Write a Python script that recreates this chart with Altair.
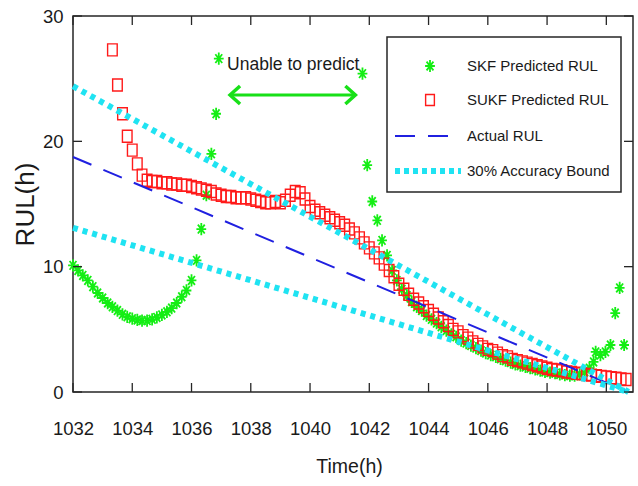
import altair as alt
import pandas as pd

# ---------------- data ----------------
skf1_t = [1032.0, 1032.17, 1032.33, 1032.5, 1032.67, 1032.83,
          1033.0, 1033.17, 1033.33, 1033.5, 1033.67, 1033.83,
          1034.0, 1034.17, 1034.33, 1034.5, 1034.67, 1034.83,
          1035.0, 1035.17, 1035.33, 1035.5, 1035.67, 1035.83,
          1036.0, 1036.17, 1036.33, 1036.5, 1036.67, 1036.83, 1036.92]
skf1_v = [10.1, 9.7, 9.3, 8.9, 8.4, 7.9,
          7.5, 7.1, 6.8, 6.5, 6.2, 6.0,
          5.85, 5.75, 5.7, 5.7, 5.8, 5.95,
          6.15, 6.4, 6.7, 7.1, 7.6, 8.1,
          8.9, 10.5, 13.0, 15.7, 19.0, 22.2, 26.6]

skf2_t = [1041.77, 1041.93,
          1042.1, 1042.27, 1042.43, 1042.6, 1042.77, 1042.93,
          1043.1, 1043.27, 1043.43, 1043.6, 1043.77, 1043.93,
          1044.1, 1044.27, 1044.43, 1044.6, 1044.77, 1044.93,
          1045.1, 1045.27, 1045.43, 1045.6, 1045.77, 1045.93,
          1046.1, 1046.27, 1046.43, 1046.6, 1046.77, 1046.93,
          1047.1, 1047.27, 1047.43, 1047.6, 1047.77, 1047.93,
          1048.1, 1048.27, 1048.43, 1048.6, 1048.77, 1048.93,
          1049.1, 1049.27, 1049.43, 1049.57, 1049.64, 1049.8, 1049.97,
          1050.14, 1050.3, 1050.45, 1050.6]
skf2_v = [25.4, 18.1,
          15.2, 13.7, 12.1, 10.9, 9.7, 8.9,
          8.2, 7.7, 7.2, 6.8, 6.5, 6.1,
          5.8, 5.5, 5.2, 4.9, 4.6, 4.4,
          4.1, 3.9, 3.7, 3.5, 3.3, 3.1,
          2.95, 2.8, 2.65, 2.5, 2.35, 2.2,
          2.1, 2.0, 1.9, 1.8, 1.7, 1.6,
          1.55, 1.5, 1.4, 1.35, 1.3, 1.3,
          1.4, 1.6, 1.9, 2.4, 3.2, 2.95, 3.2,
          3.75, 6.3, 8.3, 3.75]

sukf_t = [1033.33, 1033.5, 1033.67, 1033.83,
          1034.0, 1034.17, 1034.33, 1034.5, 1034.67, 1034.83,
          1035.0, 1035.17, 1035.33, 1035.5, 1035.67, 1035.83,
          1036.0, 1036.17, 1036.33, 1036.5, 1036.67, 1036.83,
          1037.0, 1037.17, 1037.33, 1037.5, 1037.67, 1037.83,
          1038.0, 1038.17, 1038.33, 1038.5, 1038.67, 1038.83,
          1039.0, 1039.17, 1039.33, 1039.5, 1039.67, 1039.83,
          1040.0, 1040.17, 1040.33, 1040.5, 1040.67, 1040.83,
          1041.0, 1041.17, 1041.33, 1041.5, 1041.67, 1041.83,
          1042.0, 1042.17, 1042.33, 1042.5, 1042.67, 1042.83,
          1043.0, 1043.17, 1043.33, 1043.5, 1043.67, 1043.83,
          1044.0, 1044.17, 1044.33, 1044.5, 1044.67, 1044.83,
          1045.0, 1045.17, 1045.33, 1045.5, 1045.67, 1045.83,
          1046.0, 1046.17, 1046.33, 1046.5, 1046.67, 1046.83,
          1047.0, 1047.17, 1047.33, 1047.5, 1047.67, 1047.83,
          1048.0, 1048.17, 1048.33, 1048.5, 1048.67, 1048.83,
          1049.0, 1049.17, 1049.33, 1049.5, 1049.67, 1049.83,
          1050.0, 1050.17, 1050.33, 1050.5, 1050.67]
sukf_v = [27.3, 24.5, 22.2, 20.4,
          19.3, 18.2, 17.3, 16.9, 16.8, 16.8,
          16.7, 16.7, 16.6, 16.6, 16.5, 16.5,
          16.4, 16.3, 16.2, 16.1, 16.0, 15.8,
          15.7, 15.6, 15.6, 15.5, 15.5, 15.5,
          15.4, 15.3, 15.2, 15.1, 15.1, 15.2,
          15.1, 15.3, 15.7, 16.0, 15.9, 15.4,
          14.8, 14.5, 14.3, 14.1, 13.9, 13.7,
          13.5, 13.3, 13.0, 12.7, 12.3, 11.9,
          11.5, 11.1, 10.7, 10.2, 9.7, 9.2,
          8.6, 8.2, 7.8, 7.4, 7.1, 6.8,
          6.5, 6.2, 5.9, 5.6, 5.3, 5.0,
          4.8, 4.5, 4.3, 4.0, 3.8, 3.6,
          3.4, 3.3, 3.1, 2.9, 2.8, 2.6,
          2.5, 2.4, 2.3, 2.2, 2.1, 2.0,
          1.9, 1.8, 1.75, 1.7, 1.6, 1.55,
          1.5, 1.45, 1.4, 1.35, 1.3, 1.25,
          1.2, 1.15, 1.1, 1.05, 1.0]

actual_t = [1032.0, 1050.75]
actual_v = [18.75, 0.0]
upper_v = [24.4, 0.0]
lower_v = [13.1, 0.0]

x_ticks = [1032, 1034, 1036, 1038, 1040, 1042, 1044, 1046, 1048, 1050]
y_ticks = [0, 10, 20, 30]

annot_text = "Unable to predict"
annot_t, annot_v = 1037.2, 26.1
arrow_t1, arrow_t2, arrow_v = 1037.3, 1041.53, 23.7

legend_labels = ["SKF Predicted RUL", "SUKF Predicted RUL", "Actual RUL", "30% Accuracy Bound"]

# ---------------- styling ----------------
W, H = 560, 376
FONT = "Liberation Sans, Arial, Helvetica, sans-serif"
AXC = "#262626"
TXT = "#1a1a1a"
GREEN = "#14ee14"
RED = "#ff1a1a"
BLUE = "#2020e0"
CYAN = "#1fe3f2"
ARROWC = "#18e018"
AST = "M -0.8 0 L 0.8 0 M 0 -1 L 0 1 M -0.56 -0.72 L 0.56 0.72 M -0.56 0.72 L 0.56 -0.72"
SQ = "M -0.8 -1 L 0.8 -1 L 0.8 1 L -0.8 1 Z"

xs = alt.Scale(domain=[1032, 1050.9], nice=False, zero=False)
ys = alt.Scale(domain=[0, 30], nice=False, zero=False)

x_axis = alt.Axis(values=x_ticks, format="d", grid=False, domain=False, ticks=False, tickSize=0,
                  labelPadding=36, labelBaseline="middle", labelFont=FONT, labelFontSize=18.5,
                  labelColor=TXT, labelFlush=False, labelOverlap=False,
                  title="Time(h)", titleFont=FONT, titleFontSize=19.5, titleFontWeight="normal",
                  titleColor=TXT, titleX=W / 2 - 4, titleY=74, titleAlign="center",
                  titleBaseline="middle")
y_axis = alt.Axis(values=y_ticks, format="d", grid=False, domain=False, ticks=False, tickSize=0,
                  labelPadding=10, labelFont=FONT, labelFontSize=18.5, labelColor=TXT,
                  labelFlush=False, labelOverlap=False,
                  title="RUL(h)", titleFont=FONT, titleFontSize=26,
                  titleFontWeight="normal", titleColor=TXT, titleX=-48, titleY=H / 2,
                  titleAngle=270, titleAlign="center", titleBaseline="middle")

X = alt.X("t:Q", scale=xs, axis=x_axis)
Y = alt.Y("v:Q", scale=ys, axis=y_axis)

skf_df = pd.DataFrame({"t": skf1_t + skf2_t, "v": skf1_v + skf2_v})
sukf_df = pd.DataFrame({"t": sukf_t, "v": sukf_v})
actual_df = pd.DataFrame({"t": actual_t, "v": actual_v})
bound_df = pd.DataFrame({"t": actual_t * 2, "v": upper_v + lower_v,
                         "which": ["upper", "upper", "lower", "lower"]})
one = pd.DataFrame({"a": [0]})

skf = alt.Chart(skf_df).mark_point(shape=AST, size=150, filled=False, stroke=GREEN,
                                    strokeWidth=1.8, opacity=1).encode(x=X, y=Y)
sukf = alt.Chart(sukf_df).mark_point(shape=SQ, size=144, filled=False, stroke=RED,
                                      strokeWidth=1.4, opacity=1).encode(x=X, y=Y)
actual = alt.Chart(actual_df).mark_line(color=BLUE, strokeWidth=2,
                                        strokeDash=[20, 13]).encode(x=X, y=Y)
bounds = alt.Chart(bound_df).mark_line(color=CYAN, strokeWidth=6, strokeDash=[5, 5],
                                       strokeCap="butt").encode(x=X, y=Y, detail="which:N")

# annotation
annot = alt.Chart(pd.DataFrame({"t": [annot_t], "v": [annot_v], "label": [annot_text]})).mark_text(
    align="left", baseline="middle", font=FONT, fontSize=17.5, color=TXT
).encode(x=X, y=Y, text="label:N")
arrow_line = alt.Chart(pd.DataFrame({"t": [arrow_t1], "t2": [arrow_t2], "v": [arrow_v]})).mark_rule(
    color=ARROWC, strokeWidth=3).encode(x=X, x2="t2:Q", y=Y)
arrow_heads = alt.Chart(pd.DataFrame({
    "t": [arrow_t1, arrow_t2], "v": [arrow_v, arrow_v],
    "path": ["M 1 -0.9 L 0 0 L 1 0.9", "M -1 -0.9 L 0 0 L -1 0.9"]})).mark_point(
    filled=False, size=400, stroke=ARROWC, strokeWidth=3.5, opacity=1
).encode(x=X, y=Y, shape=alt.Shape("path:N", scale=None))

# inward ticks (MATLAB style box)
xt = pd.DataFrame({"t": x_ticks})
yt = pd.DataFrame({"v": y_ticks})
TL = 9
tick_b = alt.Chart(xt).mark_rule(color=AXC, strokeWidth=1.3).encode(x=X, y=alt.value(H), y2=alt.value(H - TL))
tick_t = alt.Chart(xt).mark_rule(color=AXC, strokeWidth=1.3).encode(x=X, y=alt.value(0), y2=alt.value(TL))
tick_l = alt.Chart(yt).mark_rule(color=AXC, strokeWidth=1.3).encode(y=Y, x=alt.value(0), x2=alt.value(TL))
tick_r = alt.Chart(yt).mark_rule(color=AXC, strokeWidth=1.3).encode(y=Y, x=alt.value(W), x2=alt.value(W - TL))

# legend
leg_box = alt.Chart(one).mark_rect(fill="white", stroke=AXC, strokeWidth=1.5).encode(
    x=alt.value(314), x2=alt.value(548), y=alt.value(21), y2=alt.value(176))
leg_y = [50, 84, 120, 155]
leg_ast = alt.Chart(one).mark_point(shape=AST, size=150, filled=False, stroke=GREEN,
                                    strokeWidth=1.8, opacity=1).encode(x=alt.value(357), y=alt.value(leg_y[0]))
leg_sq = alt.Chart(one).mark_point(shape=SQ, size=120, filled=False, stroke=RED,
                                   strokeWidth=1.4, opacity=1).encode(x=alt.value(357), y=alt.value(leg_y[1]))
leg_dash = alt.Chart(one).mark_rule(color=BLUE, strokeWidth=2, strokeDash=[20, 13]).encode(
    x=alt.value(322), x2=alt.value(379), y=alt.value(leg_y[2]))
leg_dot = alt.Chart(one).mark_rule(color=CYAN, strokeWidth=6, strokeDash=[5, 4], strokeCap="butt").encode(
    x=alt.value(322), x2=alt.value(388), y=alt.value(leg_y[3]))
leg_texts = [
    alt.Chart(one).mark_text(text=lab, align="left", baseline="middle", font=FONT,
                             fontSize=15, color=TXT).encode(x=alt.value(394), y=alt.value(yp))
    for lab, yp in zip(legend_labels, leg_y)
]

chart = alt.layer(
    skf, sukf, actual, bounds, annot, arrow_line, arrow_heads,
    tick_b, tick_t, tick_l, tick_r,
    leg_box, leg_ast, leg_sq, leg_dash, leg_dot, *leg_texts
).properties(
    width=W, height=H,
    padding={"left": 73, "top": 16, "right": 5, "bottom": 94},
    autosize=alt.AutoSizeParams(type="none"),
    background="white",
).configure_view(stroke=AXC, strokeWidth=1.5)

chart.save("out.html", embed_options={"renderer": "svg", "actions": False})
